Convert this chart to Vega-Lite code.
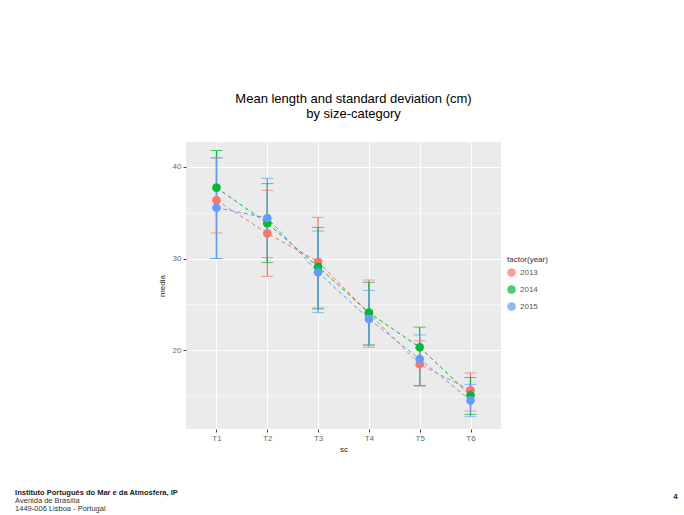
{
  "$schema": "https://vega.github.io/schema/vega-lite/v6.json",
  "width": 315,
  "height": 287,
  "autosize": {"type": "none"},
  "padding": {"left": 186, "top": 142, "right": 183, "bottom": 86},
  "background": "white",
  "title": {
    "text": "Instituto Português do Mar e da Atmosfera, IP",
    "subtitle": ["Avenida de Brasília", "1449-006 Lisboa - Portugal"],
    "orient": "bottom",
    "anchor": "start",
    "frame": "bounds",
    "font": "Liberation Sans",
    "fontSize": 7.5,
    "fontWeight": "bold",
    "color": "#1a1a1a",
    "subtitleFont": "Liberation Sans",
    "subtitleFontSize": 7.5,
    "subtitleColor": "#333",
    "subtitlePadding": 0,
    "subtitleLineHeight": 8,
    "lineHeight": 9,
    "offset": -11,
    "dx": -143
  },
  "data": {
    "values": [
      {"sc": "T1", "year": "2013", "media": 36.36, "lo": 32.8, "hi": 41.0},
      {"sc": "T2", "year": "2013", "media": 32.75, "lo": 28.05, "hi": 37.45},
      {"sc": "T3", "year": "2013", "media": 29.65, "lo": 24.6, "hi": 34.5},
      {"sc": "T4", "year": "2013", "media": 24.0, "lo": 20.3, "hi": 27.65},
      {"sc": "T5", "year": "2013", "media": 18.44, "lo": 16.1, "hi": 21.0},
      {"sc": "T6", "year": "2013", "media": 15.6, "lo": 13.33, "hi": 17.5},
      {"sc": "T1", "year": "2014", "media": 37.74, "lo": 30.0, "hi": 41.8},
      {"sc": "T2", "year": "2014", "media": 33.85, "lo": 29.55, "hi": 38.18},
      {"sc": "T3", "year": "2014", "media": 29.1, "lo": 24.5, "hi": 33.4},
      {"sc": "T4", "year": "2014", "media": 24.08, "lo": 20.55, "hi": 27.4},
      {"sc": "T5", "year": "2014", "media": 20.3, "lo": 16.1, "hi": 22.5},
      {"sc": "T6", "year": "2014", "media": 15.05, "lo": 12.97, "hi": 17.0},
      {"sc": "T1", "year": "2015", "media": 35.55, "lo": 30.0, "hi": 41.0},
      {"sc": "T2", "year": "2015", "media": 34.43, "lo": 30.1, "hi": 38.76},
      {"sc": "T3", "year": "2015", "media": 28.5, "lo": 24.08, "hi": 33.0},
      {"sc": "T4", "year": "2015", "media": 23.4, "lo": 20.55, "hi": 26.5},
      {"sc": "T5", "year": "2015", "media": 19.0, "lo": 16.1, "hi": 21.65},
      {"sc": "T6", "year": "2015", "media": 14.5, "lo": 12.75, "hi": 16.25}
    ]
  },
  "encoding": {
    "color": {
      "field": "year",
      "type": "nominal",
      "scale": {"domain": ["2013", "2014", "2015"], "range": ["#F8766D", "#00BA38", "#619CFF"]},
      "legend": {
        "title": "factor(year)",
        "orient": "none",
        "legendX": 321,
        "legendY": 114,
        "symbolType": "circle",
        "symbolSize": 60,
        "symbolStrokeWidth": 1,
        "rowPadding": 4,
        "titlePadding": 4
      }
    }
  },
  "resolve": {"axis": {"x": "independent", "y": "independent"}},
  "layer": [
    {
      "mark": {"type": "rule", "strokeWidth": 1.3},
      "encoding": {
        "x": {
          "field": "sc",
          "type": "nominal",
          "scale": {"type": "point", "padding": 0.6},
          "axis": {"title": "sc", "labelAngle": 0, "labelPadding": 2, "titlePadding": 3, "grid": true}
        },
        "y": {
          "field": "lo",
          "type": "quantitative",
          "title": "media",
          "scale": {"domain": [11.37, 42.73], "nice": false, "zero": false},
          "axis": {
            "values": [15, 20, 25, 30, 35, 40],
            "labelExpr": "datum.value % 10 === 0 ? datum.label : ''",
            "gridWidth": {"condition": {"test": "datum.value % 10 === 0", "value": 1.1}, "value": 0.5},
            "tickOpacity": {"condition": {"test": "datum.value % 10 === 0", "value": 1}, "value": 0},
            "labelPadding": 2,
            "titlePadding": 6
          }
        },
        "y2": {"field": "hi"}
      }
    },
    {
      "mark": {"type": "tick", "size": 12, "thickness": 1},
      "encoding": {
        "x": {"field": "sc", "type": "nominal", "axis": null},
        "y": {
          "field": "lo",
          "type": "quantitative",
          "axis": {
            "orient": "right",
            "labels": false,
            "ticks": false,
            "grid": false,
            "domain": false,
            "title": "4",
            "titleAngle": 0,
            "titleX": 174,
            "titleY": 358,
            "titleFontSize": 8,
            "titleFontWeight": "bold",
            "titleColor": "#222"
          }
        }
      }
    },
    {
      "mark": {"type": "tick", "size": 12, "thickness": 1},
      "encoding": {
        "x": {"field": "sc", "type": "nominal", "axis": null},
        "y": {"field": "hi", "type": "quantitative", "axis": null}
      }
    },
    {
      "mark": {"type": "line", "strokeDash": [4, 3], "strokeWidth": 1},
      "encoding": {
        "x": {
          "field": "sc",
          "type": "nominal",
          "axis": {
            "orient": "top",
            "labels": false,
            "ticks": false,
            "grid": false,
            "domain": false,
            "title": ["Mean length and standard deviation (cm)", "by size-category"],
            "titleFontSize": 13,
            "titleColor": "black",
            "titleLineHeight": 15,
            "titlePadding": 22,
            "titleX": 167
          }
        },
        "y": {"field": "media", "type": "quantitative", "axis": null}
      }
    },
    {
      "mark": {"type": "point", "filled": true, "size": 75, "opacity": 1},
      "encoding": {
        "x": {"field": "sc", "type": "nominal", "axis": null},
        "y": {"field": "media", "type": "quantitative", "axis": null}
      }
    }
  ],
  "config": {
    "view": {"fill": "#EBEBEB", "stroke": null},
    "axis": {
      "domain": false,
      "gridColor": "white",
      "gridWidth": 1.1,
      "tickColor": "#444",
      "tickSize": 3,
      "labelColor": "#666",
      "labelFont": "Liberation Sans",
      "labelFontSize": 8,
      "titleFont": "Liberation Sans",
      "titleFontSize": 8,
      "titleFontWeight": "normal",
      "titleColor": "#222"
    },
    "legend": {
      "labelFont": "Liberation Sans",
      "labelFontSize": 8,
      "labelColor": "#555",
      "titleFont": "Liberation Sans",
      "titleFontSize": 8,
      "titleFontWeight": "normal",
      "titleColor": "#333"
    }
  }
}
